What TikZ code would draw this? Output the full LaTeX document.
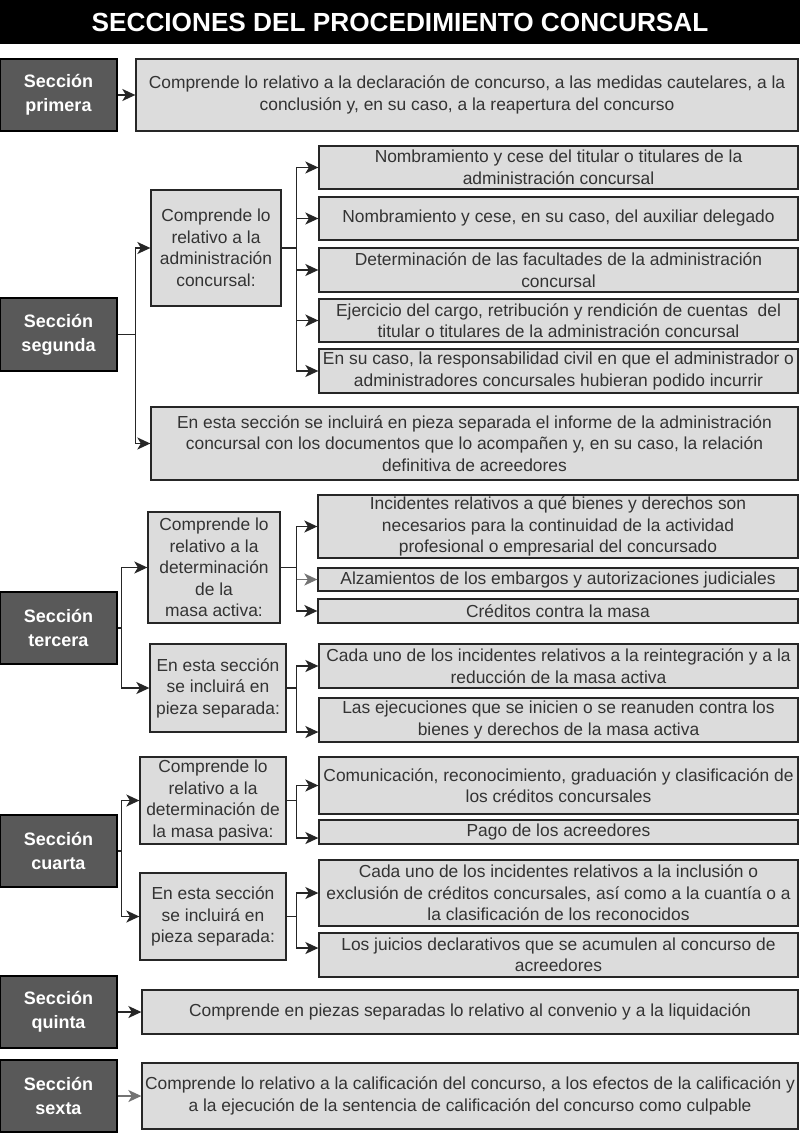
\documentclass[tikz,border=0pt]{standalone}
\usepackage{fontspec}
\setmainfont{Liberation Sans}
\usetikzlibrary{arrows.meta}
\definecolor{darkbox}{HTML}{595959}
\definecolor{lightbox}{HTML}{DCDCDC}
\definecolor{txtgray}{HTML}{333333}
\tikzset{
  secbox/.style={draw=black, line width=1.3pt, fill=darkbox, text=white,
    font=\fontsize{18}{24}\selectfont\bfseries, align=center, inner sep=0pt},
  lbox/.style={draw=black!85, line width=1.3pt, fill=lightbox, text=txtgray,
    font=\fontsize{17.4}{21.5}\selectfont, align=center, inner sep=0pt},
  conn/.style={line width=1.4pt, draw=black!85},
  arr/.style={conn, -{Stealth[length=13pt,width=12pt,inset=3.5pt]}},
  garr/.style={arr, draw=black!55},
}
\newcommand\boxn[7]{\node[#1, minimum width={(#5-#3)*1pt}, minimum height={(#6-#4)*1pt}] (#2) at ({(#3+#5)/2},{(#4+#6)/2}) {#7};}
\begin{document}
\begin{tikzpicture}[x=1pt,y=-1pt]
\useasboundingbox (0,0) rectangle (800,1134);
\fill[white] (0,0) rectangle (800,1134);
% title
\fill[black] (0,0) rectangle (800,44);
\node[text=white, font=\fontsize{26.2}{30}\selectfont\bfseries] (title) at (400,22) {SECCIONES DEL PROCEDIMIENTO CONCURSAL};

% Seccion primera
\boxn{secbox}{s1}{0}{59}{117}{131}{Sección\\primera}
\boxn{lbox}{b1}{136}{59}{798}{131}{Comprende lo relativo a la declaración de concurso, a las medidas cautelares, a la\\conclusión y, en su caso, a la reapertura del concurso}
\draw[arr] (s1.east) -- (b1.west);

% Seccion segunda
\boxn{secbox}{s2}{0}{298}{117}{371}{Sección\\segunda}
\boxn{lbox}{s2a}{151}{190}{281}{306}{Comprende lo\\relativo a la\\administración\\concursal:}
\boxn{lbox}{s2b}{151}{407}{798}{480}{En esta sección se incluirá en pieza separada el informe de la administración\\concursal con los documentos que lo acompañen y, en su caso, la relación\\definitiva de acreedores}
\boxn{lbox}{a}{319}{146}{798}{189}{Nombramiento y cese del titular o titulares de la\\administración concursal}
\boxn{lbox}{b}{319}{197}{798}{240}{Nombramiento y cese, en su caso, del auxiliar delegado}
\boxn{lbox}{c}{319}{248}{798}{292}{Determinación de las facultades de la administración\\concursal}
\boxn{lbox}{d}{319}{299}{798}{342}{Ejercicio del cargo, retribución y rendición de cuentas\ \ del\\titular o titulares de la administración concursal}
\boxn{lbox}{e}{319}{349}{798}{393}{En su caso, la responsabilidad civil en que el administrador o\\administradores concursales hubieran podido incurrir}
\draw[arr] (s2.east) -- ++(18,0) |- (s2a.west);
\draw[arr] (s2.east) -- ++(18,0) |- (s2b.west);
\foreach \t in {a,b,c,d,e}{
  \draw[arr] (s2a.east) -- ++(15,0) |- (\t.west);
}

% Seccion tercera
\boxn{secbox}{s3}{0}{592}{117}{664}{Sección\\tercera}
\boxn{lbox}{s3a}{148}{512}{280}{623}{Comprende lo\\relativo a la\\determinación\\de la\\masa activa:}
\boxn{lbox}{s3b}{150}{644}{286}{732}{En esta sección\\se incluirá en\\pieza separada:}
\boxn{lbox}{f}{318}{495}{798}{558}{Incidentes relativos a qué bienes y derechos son\\necesarios para la continuidad de la actividad\\profesional o empresarial del concursado}
\boxn{lbox}{g}{318}{568}{798}{591}{Alzamientos de los embargos y autorizaciones judiciales}
\boxn{lbox}{h}{318}{599}{798}{623}{Créditos contra la masa}
\boxn{lbox}{i}{319}{644}{798}{688}{Cada uno de los incidentes relativos a la reintegración y a la\\reducción de la masa activa}
\boxn{lbox}{j}{319}{698}{798}{742}{Las ejecuciones que se inicien o se reanuden contra los\\bienes y derechos de la masa activa}
\draw[arr] (s3.east) -- ++(4,0) |- (s3a.west);
\draw[arr] (s3.east) -- ++(4,0) |- (s3b.west);
\draw[arr] (s3a.east) -- ++(16,0) |- (f.west);
\draw[garr] (s3a.east) -- ++(16,0) |- (g.west);
\draw[arr] (s3a.east) -- ++(16,0) |- (h.west);
\draw[arr] (s3b.east) -- ++(10,0) |- (i.west);
\draw[arr] (s3b.east) -- ++(10,0) |- ([yshift=-12pt]j.west);

% Seccion cuarta
\boxn{secbox}{s4}{0}{815}{117}{887}{Sección\\cuarta}
\boxn{lbox}{s4a}{140}{757}{286}{844}{Comprende lo\\relativo a la\\determinación de\\la masa pasiva:}
\boxn{lbox}{s4b}{140}{873}{286}{960}{En esta sección\\se incluirá en\\pieza separada:}
\boxn{lbox}{k}{319}{757}{798}{814}{Comunicación, reconocimiento, graduación y clasificación de\\los créditos concursales}
\boxn{lbox}{l}{319}{820}{798}{844}{Pago de los acreedores}
\boxn{lbox}{m}{319}{860}{798}{926}{Cada uno de los incidentes relativos a la inclusión o\\exclusión de créditos concursales, así como a la cuantía o a\\la clasificación de los reconocidos}
\boxn{lbox}{n}{319}{933}{798}{977}{Los juicios declarativos que se acumulen al concurso de\\acreedores}
\draw[arr] (s4.east) -- ++(4,0) |- (s4a.west);
\draw[arr] (s4.east) -- ++(4,0) |- (s4b.west);
\draw[arr] (s4a.east) -- ++(10,0) |- (k.west);
\draw[arr] (s4a.east) -- ++(10,0) |- ([yshift=-6pt]l.west);
\draw[arr] (s4b.east) -- ++(10,0) |- (m.west);
\draw[arr] (s4b.east) -- ++(10,0) |- ([yshift=7pt]n.west);

% Seccion quinta
\boxn{secbox}{s5}{0}{976}{117}{1048}{Sección\\quinta}
\boxn{lbox}{b5}{142}{990}{798}{1034}{Comprende en piezas separadas lo relativo al convenio y a la liquidación}
\draw[arr] (s5.east) -- (b5.west);

% Seccion sexta
\boxn{secbox}{s6}{0}{1060}{117}{1132}{Sección\\sexta}
\boxn{lbox}{b6}{142}{1063}{798}{1129}{Comprende lo relativo a la calificación del concurso, a los efectos de la calificación y\\a la ejecución de la sentencia de calificación del concurso como culpable}
\draw[garr] (s6.east) -- (b6.west);
\end{tikzpicture}
\end{document}
